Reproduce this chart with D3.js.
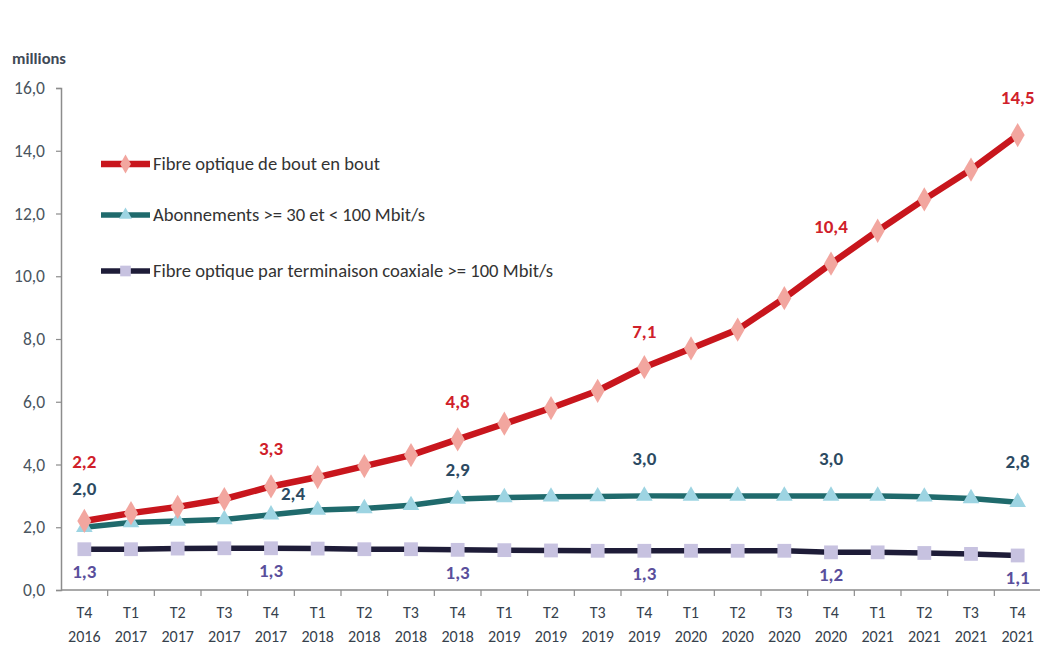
<!DOCTYPE html>
<html><head><meta charset="utf-8">
<script src="https://cdn.jsdelivr.net/npm/d3@7"></script>
<style>
html,body{margin:0;padding:0;background:#fff;}
svg{display:block;}
text{font-family:Carlito,"Liberation Sans Narrow",Lato,sans-serif;}
</style></head>
<body>
<svg id="chart" width="1040" height="656"></svg>
<script>
const quarters = ["T4","T1","T2","T3","T4","T1","T2","T3","T4","T1","T2","T3","T4","T1","T2","T3","T4","T1","T2","T3","T4"];
const years = ["2016","2017","2017","2017","2017","2018","2018","2018","2018","2019","2019","2019","2019","2020","2020","2020","2020","2021","2021","2021","2021"];
const fibre = [2.2,2.45,2.65,2.9,3.3,3.6,3.95,4.3,4.8,5.3,5.8,6.35,7.1,7.7,8.3,9.3,10.4,11.45,12.45,13.4,14.5];
const abonnements = [2.0,2.15,2.2,2.25,2.4,2.55,2.6,2.7,2.9,2.95,2.97,2.98,3.0,3.0,3.0,3.0,3.0,3.0,2.97,2.92,2.8];
const coax = [1.3,1.3,1.32,1.33,1.33,1.32,1.3,1.3,1.28,1.27,1.26,1.25,1.25,1.25,1.25,1.25,1.2,1.2,1.18,1.15,1.1];
const yTicks = [0,2,4,6,8,10,12,14,16];
const labelIdx = [0,4,8,12,16,20];
const seriesNames = ["Fibre optique de bout en bout","Abonnements >= 30 et < 100 Mbit/s","Fibre optique par terminaison coaxiale >= 100 Mbit/s"];

const fmt = v => d3.format(".1f")(v).replace(".", ",");
const svg = d3.select("#chart");
const cats = quarters.map((q,i)=>i);
const x = d3.scaleBand().domain(cats).range([61,1041]);
const y = d3.scaleLinear().domain([0,16]).range([590,88]);
const cx = i => x(i) + x.bandwidth()/2;
const FONT = 'Carlito,"Liberation Sans Narrow",Lato,sans-serif';

// y axis
const ya = svg.append("g").attr("transform","translate(61,0)")
  .call(d3.axisLeft(y).tickValues(yTicks).tickSize(5).tickFormat(fmt));
ya.select(".domain").attr("stroke","#8c8c8c").attr("stroke-width",1.5);
ya.selectAll(".tick line").attr("stroke","#8c8c8c").attr("stroke-width",1.2);
ya.selectAll(".tick text").attr("fill","#4a5560").attr("font-size",17.5).attr("x",-16)
  .style("font-family",FONT);

// x axis
const xa = svg.append("g").attr("transform","translate(0,590)");
xa.append("line").attr("x1",61).attr("x2",1041).attr("stroke","#8c8c8c").attr("stroke-width",1.5);
xa.selectAll("line.tk").data(cats).join("line").attr("class","tk")
  .attr("x1",d=>x(d)+x.bandwidth()).attr("x2",d=>x(d)+x.bandwidth())
  .attr("y1",0).attr("y2",6).attr("stroke","#8c8c8c").attr("stroke-width",1.2);
const xl = xa.selectAll("text.xl").data(cats).join("text").attr("class","xl")
  .attr("text-anchor","middle").attr("fill","#36414c").attr("font-size",16);
xl.append("tspan").attr("x",d=>cx(d)).attr("y",28).text(d=>quarters[d]);
xl.append("tspan").attr("x",d=>cx(d)).attr("y",52).text(d=>years[d]);

svg.append("text").attr("x",12).attr("y",64).attr("font-size",16.5).attr("font-weight","bold")
  .attr("fill","#3f4a56").text("millions");

const series = [
  {name:seriesNames[0], data:fibre, line:"#c8161d", fill:"#f2a69f", shape:d3.symbolDiamond, size:170, lw:6.5, lab:"#d0202a", dy:[-53,-31,-31,-29,-31,-31], dx:[0,0,0,0,0,0]},
  {name:seriesNames[1], data:abonnements, line:"#1f6a6c", fill:"#9dd4e2", shape:d3.symbolTriangle, size:120, lw:5.5, lab:"#2c4a62", dy:[-32,-15,-23,-31,-31,-34], dx:[0,22,0,0,0,0]},
  {name:seriesNames[2], data:coax, line:"#1e1c38", fill:"#c7c2e0", shape:d3.symbolSquare, size:190, lw:5.5, lab:"#5a4f9c", dy:[29,29,29,29,29,29], dx:[0,0,0,0,0,0]}
];
// draw in order: coax, abonnements, fibre (fibre on top)
[2,1,0].forEach(k=>{
  const s = series[k];
  const line = d3.line().x((d,i)=>cx(i)).y(d=>y(d));
  svg.append("path").datum(s.data).attr("d",line).attr("fill","none")
    .attr("stroke",s.line).attr("stroke-width",s.lw).attr("stroke-linejoin","round");
  svg.selectAll(null).data(s.data).join("path")
    .attr("d",d3.symbol().type(s.shape).size(s.size))
    .attr("transform",(d,i)=>`translate(${cx(i)},${y(d)})`)
    .attr("fill",s.fill);
});
[2,1,0].forEach(k=>{
  const s = series[k];
  svg.selectAll(null).data(labelIdx).join("text")
    .attr("x",(d,j)=>cx(d)+s.dx[j]).attr("y",(d,j)=>y(s.data[d])+s.dy[j])
    .attr("text-anchor","middle").attr("font-size",19).attr("font-weight","bold")
    .attr("fill",s.lab).text(d=>fmt(s.data[d]));
});

// legend
const leg = svg.append("g");
series.forEach((s,k)=>{
  const ly = [164,215,271][k];
  leg.append("line").attr("x1",101).attr("x2",150).attr("y1",ly).attr("y2",ly)
    .attr("stroke",s.line).attr("stroke-width",s.lw);
  leg.append("path").attr("d",d3.symbol().type(s.shape).size(s.size*0.6))
    .attr("transform",`translate(125.5,${ly})`).attr("fill",s.fill);
  leg.append("text").attr("x",153).attr("y",ly+6).attr("font-size",18.6)
    .attr("fill","#333").text(s.name);
});
</script>
</body></html>
